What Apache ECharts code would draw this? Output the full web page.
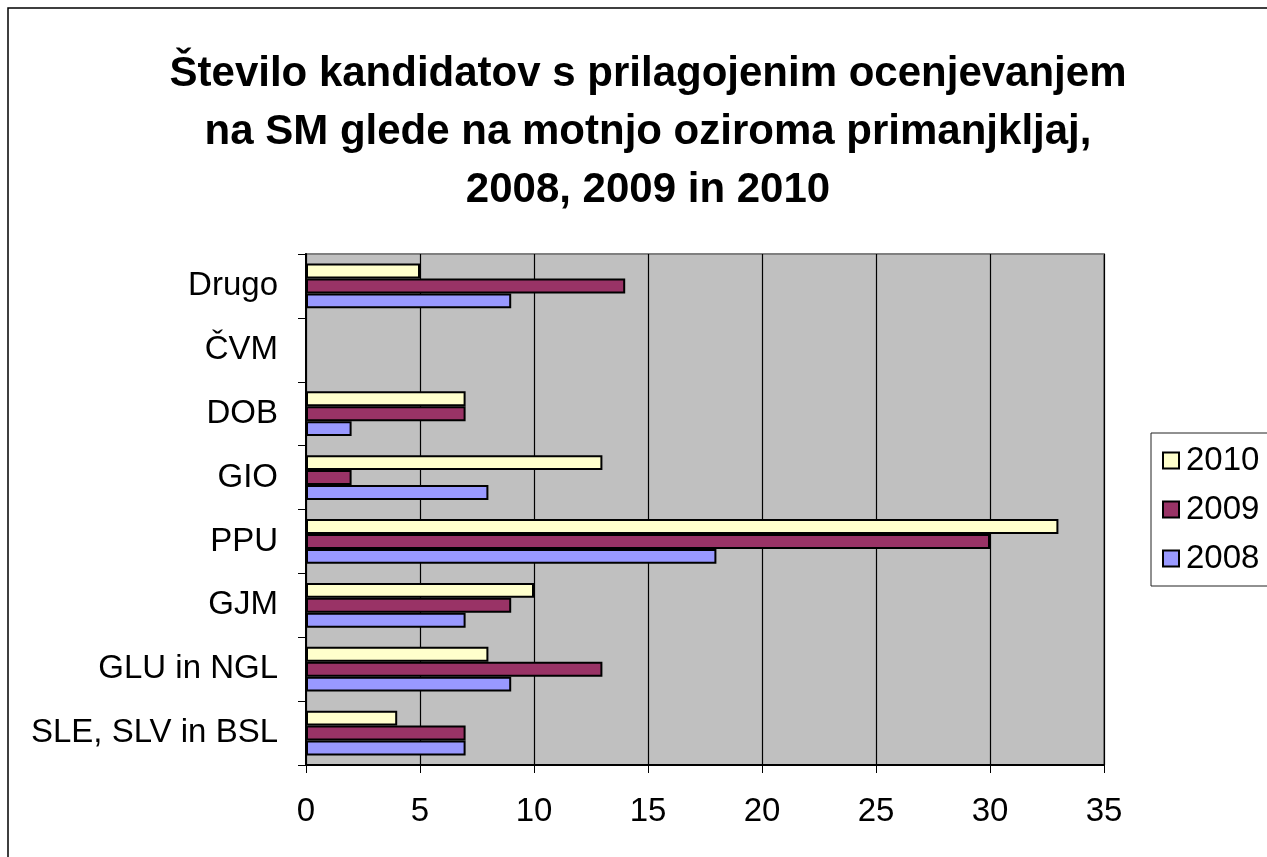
<!DOCTYPE html>
<html>
<head>
<meta charset="utf-8">
<script src="https://cdn.jsdelivr.net/npm/echarts@6/dist/echarts.min.js"></script>
<style>
html, body { margin: 0; padding: 0; background: #fff; }
#main { width: 1267px; height: 857px; }
</style>
</head>
<body>
<div id="main"></div>
<script>
// kategorije od spodaj navzgor
var categories = ['SLE, SLV in BSL', 'GLU in NGL', 'GJM', 'PPU', 'GIO', 'DOB', 'ČVM', 'Drugo'];
var data2008 = [7, 9, 7, 18, 8, 2, 0, 9];
var data2009 = [7, 13, 9, 30, 2, 7, 0, 14];
var data2010 = [4, 8, 10, 33, 13, 7, 0, 5];
var legendOrder = ['2010', '2009', '2008'];
var colors = { '2008': '#9999ff', '2009': '#993366', '2010': '#ffffcc' };
var xTicks = [0, 35, 5];

var myChart = echarts.init(document.getElementById('main'));

function barSeries(name, values) {
    return {
        name: name,
        type: 'bar',
        data: values,
        barGap: '0%',
        barCategoryGap: '30%',
        itemStyle: {
            color: colors[name],
            borderColor: '#000',
            borderWidth: 2
        }
    };
}

option = {
    backgroundColor: '#fff',
    textStyle: { fontFamily: 'Liberation Sans, Arial, sans-serif' },
    title: {
        text: 'Število kandidatov s prilagojenim ocenjevanjem\nna SM glede na motnjo oziroma primanjkljaj,\n2008, 2009 in 2010',
        left: 643,
        textAlign: 'center',
        top: 40,
        textStyle: {
            fontSize: 42,
            fontWeight: 'bold',
            color: '#000',
            lineHeight: 58,
            fontFamily: 'Liberation Sans, Arial, sans-serif'
        }
    },
    legend: {
        data: legendOrder,
        orient: 'vertical',
        left: 1151,
        top: 433,
        padding: [11, 20, 11, 11],
        itemGap: 16,
        itemWidth: 16,
        itemHeight: 16,
        borderColor: '#222',
        borderWidth: 1,
        icon: 'rect',
        itemStyle: { borderColor: '#000', borderWidth: 2 },
        textStyle: { fontSize: 33, color: '#000', padding: [0, 0, 0, 2] }
    },
    grid: {
        left: 306,
        top: 254,
        width: 798,
        height: 511,
        show: true,
        backgroundColor: '#c0c0c0',
        borderColor: '#808080',
        borderWidth: 2
    },
    xAxis: {
        type: 'value',
        min: xTicks[0],
        max: xTicks[1],
        interval: xTicks[2],
        axisLine: { show: true, lineStyle: { color: '#000', width: 2 } },
        axisTick: { show: true, length: 8, lineStyle: { color: '#000', width: 1 } },
        axisLabel: { fontSize: 33, color: '#000', margin: 30 },
        splitLine: { show: true, lineStyle: { color: '#000', width: 1.2 } }
    },
    yAxis: {
        type: 'category',
        data: categories,
        axisLine: { show: true, lineStyle: { color: '#000', width: 2 } },
        axisTick: { show: true, length: 8, lineStyle: { color: '#000', width: 1 } },
        axisLabel: { fontSize: 33, color: '#000', margin: 28 }
    },
    series: [
        barSeries('2010', data2010),
        barSeries('2009', data2009),
        barSeries('2008', data2008)
    ],
    graphic: [{
        type: 'rect',
        shape: { x: 8, y: 8, width: 1300, height: 900 },
        style: { fill: 'none', stroke: '#000', lineWidth: 1.5 },
        silent: true
    }]
};
myChart.setOption(option);
</script>
</body>
</html>
